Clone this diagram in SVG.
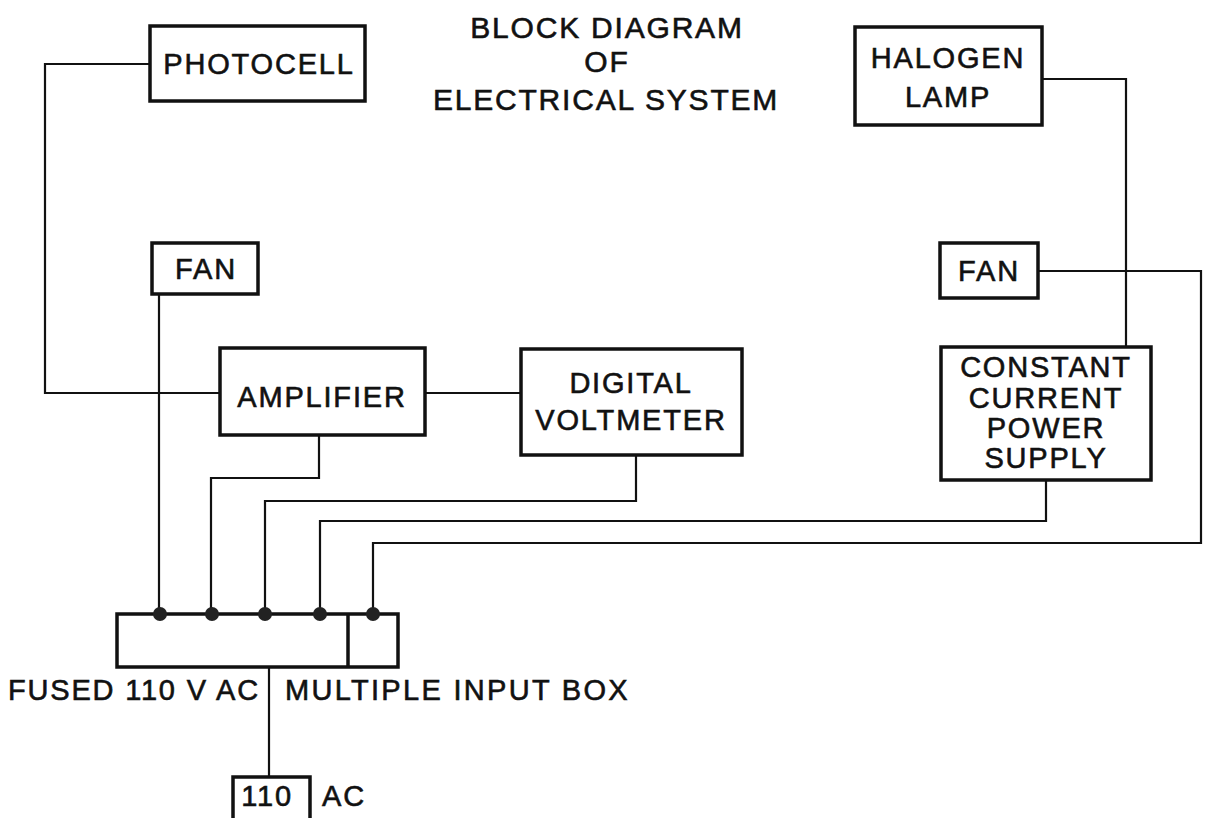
<svg xmlns="http://www.w3.org/2000/svg" width="1205" height="818" viewBox="0 0 1205 818">
<style>
.box{fill:none;stroke:#111;stroke-width:3.5}
.w{fill:none;stroke:#111;stroke-width:2.2}
.t{font-family:"Liberation Sans",Arial,sans-serif;font-size:29px;letter-spacing:1.8px;fill:#111;stroke:#111;stroke-width:0.6;text-anchor:middle}
.dot{fill:#222}
</style>
<rect width="1205" height="818" fill="#fff"/>
<g id="connectors">
<polyline class="w" points="150,64 45,64 45,393 220,393"/>
<line class="w" x1="425" y1="393" x2="521" y2="393"/>
<polyline class="w" points="1042,79 1126,79 1126,347"/>
<line class="w" x1="159" y1="294" x2="159" y2="612"/>
<polyline class="w" points="319,435 319,478 211,478 211,612"/>
<polyline class="w" points="636,455 636,501 265,501 265,612"/>
<polyline class="w" points="1046,480 1046,521 320,521 320,612"/>
<polyline class="w" points="1038,271 1201,271 1201,543 373,543 373,612"/>
<line class="w" x1="269" y1="667" x2="269" y2="777"/>
</g>
<g id="title">
<text class="t" x="607" y="38" style="font-size:30px">BLOCK DIAGRAM</text>
<text class="t" x="607" y="72" style="font-size:30px">OF</text>
<text class="t" x="606" y="110" style="font-size:30px">ELECTRICAL SYSTEM</text>
</g>
<g id="photocell">
<rect class="box" x="150" y="26" width="215" height="75"/>
<text class="t" x="259" y="74">PHOTOCELL</text>
</g>
<g id="halogen">
<rect class="box" x="855" y="27" width="187" height="98"/>
<text class="t" x="948" y="68">HALOGEN</text>
<text class="t" x="948" y="107">LAMP</text>
</g>
<g id="fan-left">
<rect class="box" x="152" y="243" width="106" height="51"/>
<text class="t" x="206" y="279">FAN</text>
</g>
<g id="fan-right">
<rect class="box" x="940" y="243" width="98" height="55"/>
<text class="t" x="989" y="281">FAN</text>
</g>
<g id="amplifier">
<rect class="box" x="220" y="348" width="205" height="87"/>
<text class="t" x="322" y="407">AMPLIFIER</text>
</g>
<g id="voltmeter">
<rect class="box" x="521" y="349" width="221" height="106"/>
<text class="t" x="631" y="393">DIGITAL</text>
<text class="t" x="631" y="430">VOLTMETER</text>
</g>
<g id="power-supply">
<rect class="box" x="941" y="347" width="210" height="133"/>
<text class="t" x="1046" y="377">CONSTANT</text>
<text class="t" x="1046" y="408">CURRENT</text>
<text class="t" x="1046" y="438">POWER</text>
<text class="t" x="1046" y="468">SUPPLY</text>
</g>
<g id="input-box">
<rect class="box" x="117" y="614" width="281" height="53"/>
<line class="box" x1="348" y1="614" x2="348" y2="667"/>
<circle class="dot" cx="160" cy="614" r="7"/>
<circle class="dot" cx="212" cy="614" r="7"/>
<circle class="dot" cx="265" cy="614" r="7"/>
<circle class="dot" cx="320" cy="614" r="7"/>
<circle class="dot" cx="373" cy="614" r="7"/>
<text class="t" x="8" y="700" style="text-anchor:start">FUSED 110 V AC</text>
<text class="t" x="285" y="700" style="text-anchor:start;letter-spacing:2.3px">MULTIPLE INPUT BOX</text>
</g>
<g id="ac-source">
<rect class="box" x="233" y="777" width="77" height="45"/>
<text class="t" x="267" y="806">110</text>
<text class="t" x="322" y="806" style="text-anchor:start">AC</text>
</g>
</svg>
